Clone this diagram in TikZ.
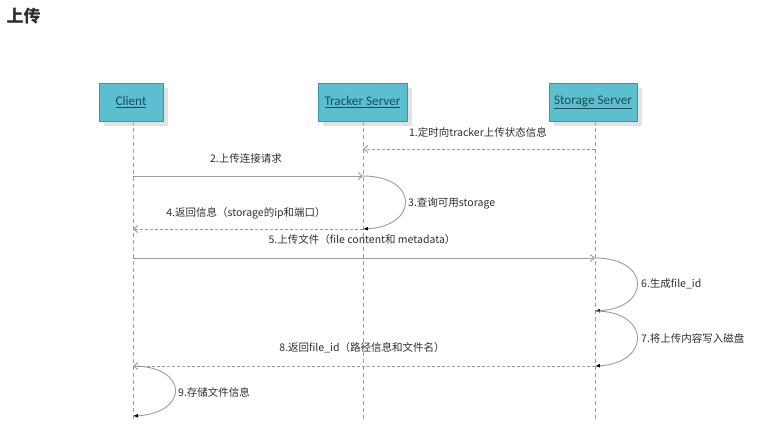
\documentclass[tikz,border=0pt]{standalone}
\usepackage{fontspec}
\setmainfont{Carlito}
\newfontfamily\cjk{Noto Sans CJK SC}
\usetikzlibrary{arrows.meta}

\definecolor{seqteal}{HTML}{5BBFCF}
\definecolor{seqedge}{HTML}{3B95A4}
\definecolor{seqlabel}{HTML}{1E4D5C}
\definecolor{seqline}{HTML}{9C9C9C}
\definecolor{seqink}{HTML}{2E2E2E}
\definecolor{seqshade}{HTML}{E2E2E2}
\tikzset{
  seq box/.style={fill=seqteal, draw=seqedge, line width=0.8pt, minimum height=38pt,
    text=seqlabel, font=\fontsize{13.2}{15}\selectfont, inner sep=0pt},
  lifeline/.style={seqline, line width=0.8pt, dash pattern=on 4pt off 3pt},
  seq msg/.style={seqline, line width=1pt, -{Straight Barb[length=4pt,width=7pt]}},
  seq reply/.style={seq msg, dash pattern=on 3pt off 2pt},
  seq loop/.style={seqline, line width=0.9pt, -{Latex[length=5pt,width=4pt,color=black]}},
  seq text/.style={text=seqink, font=\cjk\fontsize{10.5}{12}\selectfont, inner sep=0pt},
}

\begin{document}
\begin{tikzpicture}[x=1pt, y=-1pt, line cap=butt, line join=round]
  \useasboundingbox (0,0) rectangle (777,437);
  \node[anchor=west, text=seqink, font=\cjk\bfseries\fontsize{17}{20}\selectfont] (title) at (3,16) {上传};

  % actors with their shadows
  \fill[seqshade] (104,88) rectangle (168,126);
  \fill[seqshade] (323,88) rectangle (412,126);
  \fill[seqshade] (554,88) rectangle (642,126);
  \node[seq box, minimum width=64pt] (client) at (131,102) {\underline{Client}};
  \node[seq box, minimum width=89pt] (tracker) at (362.5,102) {\underline{Tracker Server}};
  \node[seq box, minimum width=88pt] (storage) at (593,102) {\underline{Storage Server}};

  \coordinate (clientEnd) at (133,420);
  \coordinate (trackerEnd) at (363,420);
  \coordinate (storageEnd) at (595,420);
  \draw[lifeline] (client.south -| clientEnd) -- (clientEnd);
  \draw[lifeline] (tracker.south -| trackerEnd) -- (trackerEnd);
  \draw[lifeline] (storage.south -| storageEnd) -- (storageEnd);

  % points where the messages meet the lifelines
  \coordinate (s1) at (595,149);  \coordinate (t1) at (363,149);
  \coordinate (c2) at (133,176);  \coordinate (t2) at (363,176);
  \coordinate (t4) at (363,229);  \coordinate (c4) at (133,229);
  \coordinate (c5) at (133,258);  \coordinate (s5) at (595,258);
  \coordinate (s6) at (595,311);
  \coordinate (s8) at (595,366);  \coordinate (c8) at (133,366);
  \coordinate (c9) at (133,416);

  \draw[seq reply] (s1) -- (t1);
  \draw[seq msg] (c2) -- (t2);
  \draw[seq loop] (t2) .. controls (419,176) and (419,226) .. (t4);
  \draw[seq reply] (t4) -- (c4);
  \draw[seq msg] (c5) -- (s5);
  \draw[seq loop] (s5) .. controls (651,258) and (651,308) .. (s6);
  \draw[seq loop] (s6) .. controls (651,311) and (651,363) .. (s8);
  \draw[seq reply] (s8) -- (c8);
  \draw[seq loop] (c8) .. controls (189,366) and (189,413) .. (c9);

  \node[seq text] (m1) at (478,132) {1.定时向tracker上传状态信息};
  \node[seq text] (m2) at (246,159) {2.上传连接请求};
  \node[seq text, anchor=west] (m3) at (408,203) {3.查询可用storage};
  \node[seq text] (m4) at (246,213) {4.返回信息（storage的ip和端口）};
  \node[seq text] (m5) at (362,240) {5.上传文件（file content和 metadata）};
  \node[seq text, anchor=west] (m6) at (641,284) {6.生成file\_id};
  \node[seq text, anchor=west] (m7) at (641,338) {7.将上传内容写入磁盘};
  \node[seq text] (m8) at (362,348) {8.返回file\_id（路径信息和文件名）};
  \node[seq text, anchor=west] (m9) at (178,392) {9.存储文件信息};
\end{tikzpicture}
\end{document}
